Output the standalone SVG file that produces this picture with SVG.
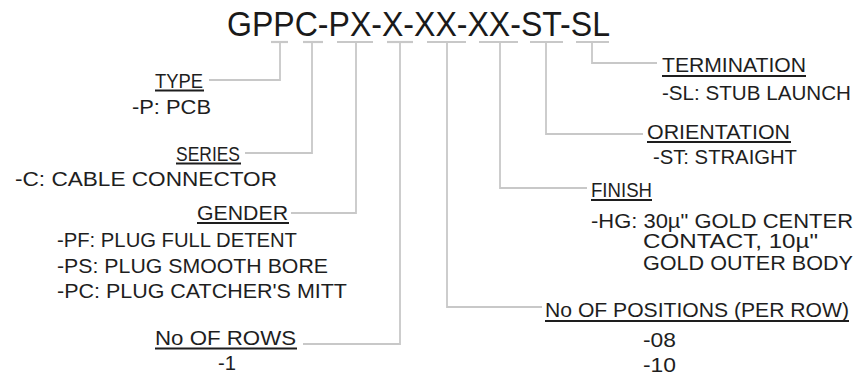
<svg xmlns="http://www.w3.org/2000/svg" width="858" height="379" viewBox="0 0 858 379">
<style>
.t{font-family:"Liberation Sans",Arial,sans-serif;font-size:20px;fill:#1e1e1e}
.title{font-family:"Liberation Sans",Arial,sans-serif;font-size:35px;fill:#1a1a1a}
.ul{stroke:#1e1e1e;stroke-width:2}
.c{fill:none;stroke:#c8c8c8;stroke-width:1.8}
.tick{stroke:#c8c8c8;stroke-width:2.2}
</style>
<rect width="858" height="379" fill="#ffffff"/>
<g id="title">
<text class="title" x="227" y="36" textLength="383" lengthAdjust="spacingAndGlyphs">GPPC-PX-X-XX-XX-ST-SL</text>
</g>
<g id="connectors">
<line class="tick" x1="271" y1="42" x2="288" y2="42"/>
<line class="tick" x1="303" y1="42" x2="323" y2="42"/>
<line class="tick" x1="337" y1="42" x2="373" y2="42"/>
<line class="tick" x1="387" y1="42" x2="413" y2="42"/>
<line class="tick" x1="427" y1="42" x2="466" y2="42"/>
<line class="tick" x1="479" y1="42" x2="518" y2="42"/>
<line class="tick" x1="530" y1="42" x2="563" y2="42"/>
<line class="tick" x1="576" y1="42" x2="609" y2="42"/>
<path class="c" d="M280,42 V80 H209"/>
<path class="c" d="M312,42 V153 H245"/>
<path class="c" d="M356,42 V213 H291"/>
<path class="c" d="M400,42 V344 H303"/>
<path class="c" d="M447,42 V307 H542"/>
<path class="c" d="M500,42 V188 H587"/>
<path class="c" d="M546,42 V134 H643"/>
<path class="c" d="M592,42 V63 H657"/>
</g>
<g id="type">
<text class="t" x="155" y="88" textLength="48" lengthAdjust="spacingAndGlyphs">TYPE</text>
<line class="ul" x1="155" y1="90.5" x2="204" y2="90.5"/>
<text class="t" x="132" y="114" textLength="79" lengthAdjust="spacingAndGlyphs">-P: PCB</text>
</g>
<g id="series">
<text class="t" x="176" y="161" textLength="64" lengthAdjust="spacingAndGlyphs">SERIES</text>
<line class="ul" x1="176" y1="163.5" x2="241" y2="163.5"/>
<text class="t" x="15" y="186" textLength="262" lengthAdjust="spacingAndGlyphs">-C: CABLE CONNECTOR</text>
</g>
<g id="gender">
<text class="t" x="197" y="220" textLength="91" lengthAdjust="spacingAndGlyphs">GENDER</text>
<line class="ul" x1="197" y1="223" x2="289" y2="223"/>
<text class="t" x="57" y="247" textLength="240" lengthAdjust="spacingAndGlyphs">-PF: PLUG FULL DETENT</text>
<text class="t" x="57" y="273" textLength="271" lengthAdjust="spacingAndGlyphs">-PS: PLUG SMOOTH BORE</text>
<text class="t" x="57" y="298" textLength="290" lengthAdjust="spacingAndGlyphs">-PC: PLUG CATCHER'S MITT</text>
</g>
<g id="rows">
<text class="t" x="155" y="345" textLength="141" lengthAdjust="spacingAndGlyphs">No OF ROWS</text>
<line class="ul" x1="155" y1="348.5" x2="297" y2="348.5"/>
<text class="t" x="218" y="370" textLength="18" lengthAdjust="spacingAndGlyphs">-1</text>
</g>
<g id="positions">
<text class="t" x="545" y="317" textLength="304" lengthAdjust="spacingAndGlyphs">No OF POSITIONS (PER ROW)</text>
<line class="ul" x1="545" y1="321" x2="849" y2="321"/>
<text class="t" x="643" y="347" textLength="33" lengthAdjust="spacingAndGlyphs">-08</text>
<text class="t" x="643" y="372" textLength="33" lengthAdjust="spacingAndGlyphs">-10</text>
</g>
<g id="finish">
<text class="t" x="591" y="197" textLength="61" lengthAdjust="spacingAndGlyphs">FINISH</text>
<line class="ul" x1="591" y1="200" x2="652" y2="200"/>
<text class="t" x="591" y="228" textLength="262" lengthAdjust="spacingAndGlyphs">-HG: 30µ" GOLD CENTER</text>
<text class="t" x="643" y="248" textLength="175" lengthAdjust="spacingAndGlyphs">CONTACT, 10µ"</text>
<text class="t" x="643" y="270" textLength="210" lengthAdjust="spacingAndGlyphs">GOLD OUTER BODY</text>
</g>
<g id="orientation">
<text class="t" x="647" y="139" textLength="143" lengthAdjust="spacingAndGlyphs">ORIENTATION</text>
<line class="ul" x1="647" y1="142" x2="791" y2="142"/>
<text class="t" x="653" y="164" textLength="144" lengthAdjust="spacingAndGlyphs">-ST: STRAIGHT</text>
</g>
<g id="termination">
<text class="t" x="662" y="72" textLength="144" lengthAdjust="spacingAndGlyphs">TERMINATION</text>
<line class="ul" x1="662" y1="76" x2="806" y2="76"/>
<text class="t" x="662" y="100" textLength="189" lengthAdjust="spacingAndGlyphs">-SL: STUB LAUNCH</text>
</g>
</svg>
